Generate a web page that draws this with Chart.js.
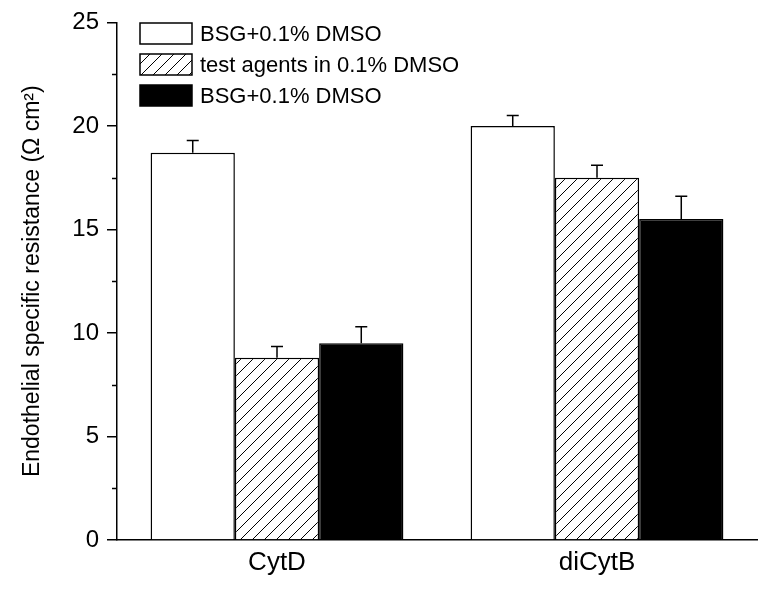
<!DOCTYPE html>
<html>
<head>
<meta charset="utf-8">
<script src="https://cdn.jsdelivr.net/npm/chart.js@4/dist/chart.umd.min.js"></script>
<style>
html,body{margin:0;padding:0;background:#fff;}
#wrap{width:764px;height:592px;}
</style>
</head>
<body>
<div id="wrap"><canvas id="c" width="764" height="592"></canvas></div>
<script>
const categories = ["CytD", "diCytB"];
const seriesLabels = ["BSG+0.1% DMSO", "test agents in 0.1% DMSO", "BSG+0.1% DMSO"];
const baselineValues = [18.7, 20.0];
const baselineErrors = [0.6, 0.5];
const agentValues = [8.8, 17.5];
const agentErrors = [0.55, 0.6];
const washoutValues = [9.5, 15.5];
const washoutErrors = [0.8, 1.1];
const yTicks = [0, 5, 10, 15, 20, 25];
const yMinorTicks = [2.5, 7.5, 12.5, 17.5, 22.5];

const FONT = "'Liberation Sans', Arial, sans-serif";

function hatchPattern() {
  const s = 12;
  const cv = document.createElement('canvas');
  cv.width = s; cv.height = s;
  const g = cv.getContext('2d');
  g.fillStyle = '#fff';
  g.fillRect(0, 0, s, s);
  g.strokeStyle = '#000';
  g.lineWidth = 1;
  g.beginPath();
  g.moveTo(0, s); g.lineTo(s, 0);
  g.moveTo(-s / 2, s / 2); g.lineTo(s / 2, -s / 2);
  g.moveTo(s / 2, s * 1.5); g.lineTo(s * 1.5, s / 2);
  g.stroke();
  return document.getElementById('c').getContext('2d').createPattern(cv, 'repeat');
}
const hatch = hatchPattern();

const errorPlugin = {
  id: 'errbars',
  afterDatasetsDraw(chart) {
    const ctx = chart.ctx;
    const y = chart.scales.y;
    ctx.save();
    ctx.strokeStyle = '#000';
    ctx.lineWidth = 1.5;
    chart.data.datasets.forEach((ds, di) => {
      const meta = chart.getDatasetMeta(di);
      meta.data.forEach((bar, i) => {
        const top = y.getPixelForValue(ds.data[i] + ds.errors[i]);
        const base = y.getPixelForValue(ds.data[i]);
        ctx.beginPath();
        ctx.moveTo(bar.x, base);
        ctx.lineTo(bar.x, top);
        ctx.moveTo(bar.x - 6, top);
        ctx.lineTo(bar.x + 6, top);
        ctx.stroke();
      });
    });
    ctx.restore();
  }
};

const minorTickPlugin = {
  id: 'minorTicks',
  afterDraw(chart) {
    const ctx = chart.ctx;
    const y = chart.scales.y;
    ctx.save();
    ctx.strokeStyle = '#000';
    ctx.lineWidth = 1.5;
    yMinorTicks.forEach(v => {
      const py = Math.round(y.getPixelForValue(v)) + 0.5;
      ctx.beginPath();
      ctx.moveTo(y.right - 5, py);
      ctx.lineTo(y.right, py);
      ctx.stroke();
    });
    ctx.restore();
  }
};

const legendPlugin = {
  id: 'customLegend',
  afterDraw(chart) {
    const ctx = chart.ctx;
    ctx.save();
    const x0 = 140, y0 = 23, bw = 52, bh = 21, gap = 31;
    ctx.font = '22px ' + FONT;
    ctx.textBaseline = 'middle';
    chart.data.datasets.forEach((ds, i) => {
      const yy = y0 + i * gap;
      ctx.fillStyle = ds.backgroundColor;
      ctx.fillRect(x0, yy, bw, bh);
      ctx.strokeStyle = '#000';
      ctx.lineWidth = 1.5;
      ctx.strokeRect(x0, yy, bw, bh);
      ctx.fillStyle = '#000';
      ctx.fillText(ds.label, x0 + 60, yy + bh / 2 + 1);
    });
    ctx.restore();
  }
};

new Chart(document.getElementById('c'), {
  type: 'bar',
  data: {
    labels: categories,
    datasets: [
      { label: seriesLabels[0], data: baselineValues, errors: baselineErrors, backgroundColor: '#ffffff', borderColor: '#000', borderWidth: 1.5 },
      { label: seriesLabels[1], data: agentValues, errors: agentErrors, backgroundColor: hatch, borderColor: '#000', borderWidth: 1.5 },
      { label: seriesLabels[2], data: washoutValues, errors: washoutErrors, backgroundColor: '#000000', borderColor: '#000', borderWidth: 1.5 }
    ]
  },
  options: {
    responsive: false,
    animation: false,
    devicePixelRatio: 1,
    layout: { padding: { top: 22, right: 7, left: 0, bottom: 0 } },
    plugins: { legend: { display: false }, tooltip: { enabled: false } },
    datasets: { bar: { categoryPercentage: 0.79, barPercentage: 1.0 } },
    scales: {
      x: {
        grid: { display: false, drawTicks: false },
        border: { display: true, color: '#000', width: 1.5 },
        ticks: { color: '#000', font: { family: FONT, size: 26 }, padding: 7 },
        afterFit(s) { s.height = 52; }
      },
      y: {
        min: 0, max: 25,
        afterBuildTicks(s) { s.ticks = yTicks.map(v => ({ value: v })); },
        grid: { drawOnChartArea: false, drawTicks: true, tickLength: 10, color: '#000', lineWidth: 1.5 },
        border: { display: true, color: '#000', width: 1.5 },
        ticks: { color: '#000', font: { family: FONT, size: 24 }, padding: 8 },
        title: { display: true, text: 'Endothelial specific resistance (Ω cm²)', color: '#000', font: { family: FONT, size: 23 }, padding: { top: 19, bottom: 0 } },
        afterFit(s) { s.width = 117; }
      }
    }
  },
  plugins: [errorPlugin, minorTickPlugin, legendPlugin]
});
</script>
</body>
</html>
